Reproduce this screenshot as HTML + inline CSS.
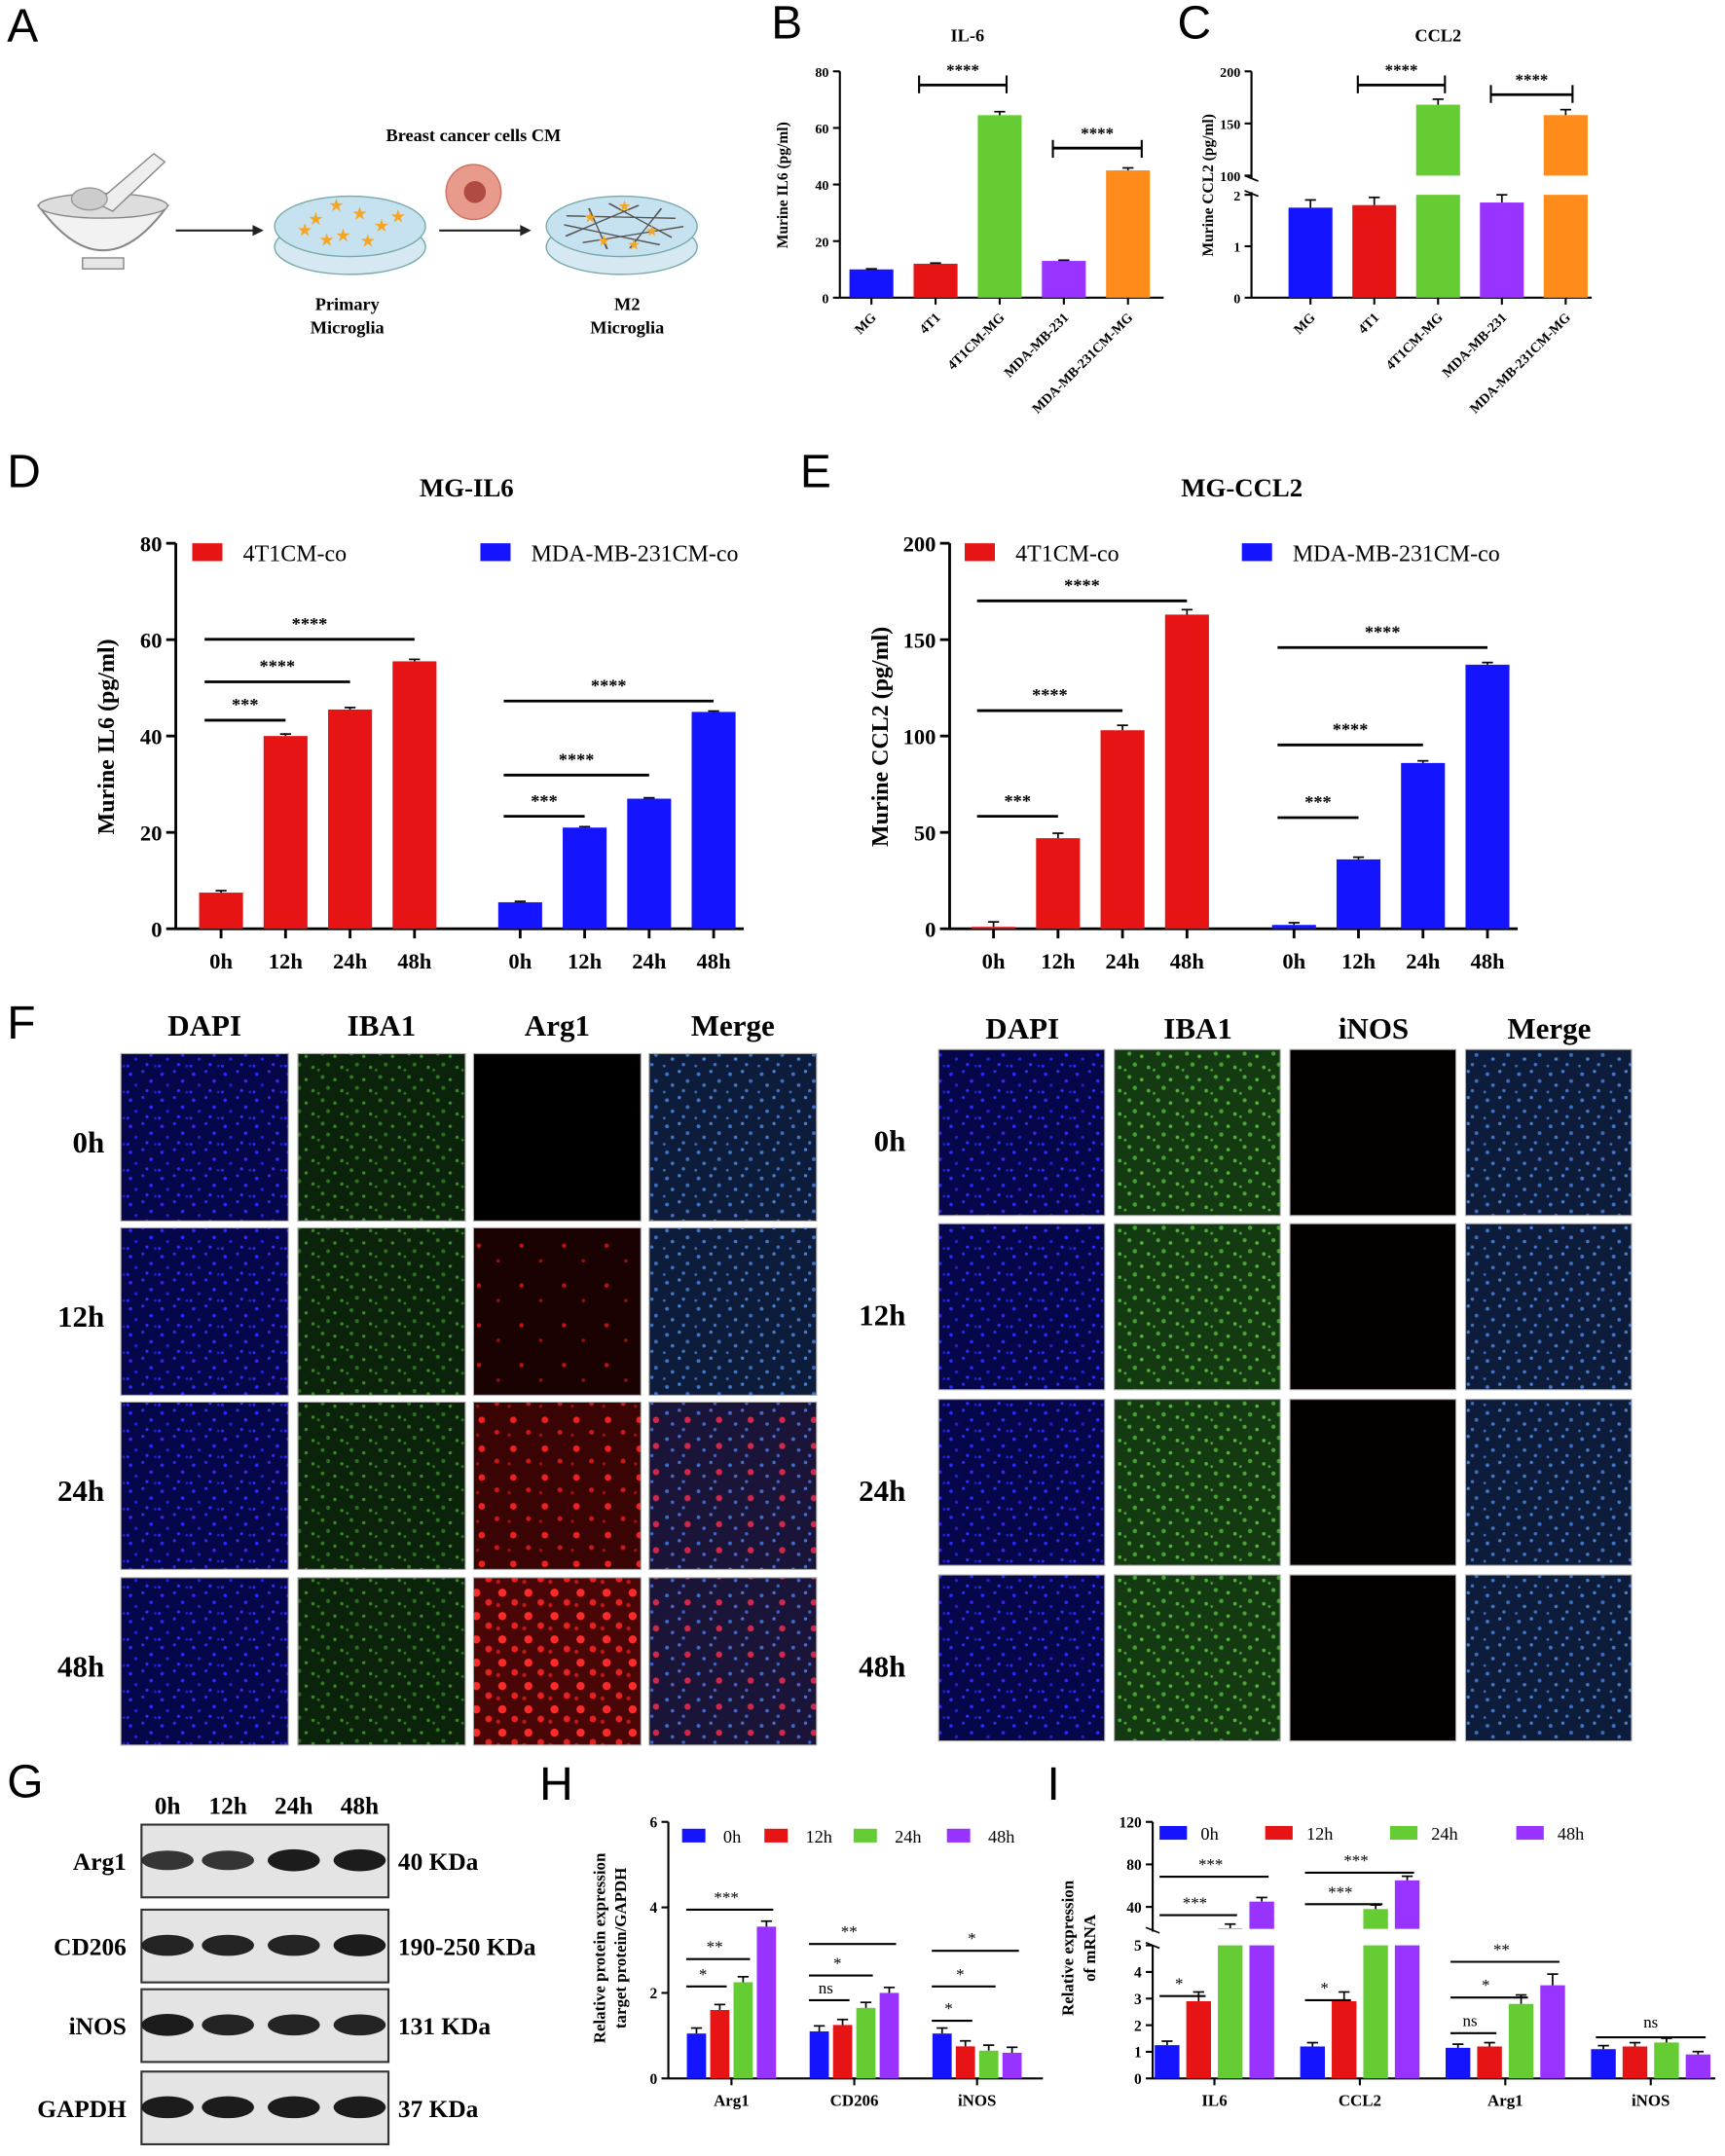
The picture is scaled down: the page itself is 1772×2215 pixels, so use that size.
<!DOCTYPE html>
<html><head><meta charset="utf-8"><style>
html,body{margin:0;padding:0;background:#fff;}
svg text{font-family:"Liberation Serif",serif;}
</style></head><body>
<svg id="fig" xmlns="http://www.w3.org/2000/svg" width="1772" height="2210" viewBox="0 0 1257 1568">
<defs>
<pattern id="pDapi" width="23" height="19" patternUnits="userSpaceOnUse"><rect width="23" height="19" fill="#06064a"/><circle cx="3" cy="4" r="1.3" fill="#2a2aff"/><circle cx="12" cy="2" r="1.1" fill="#3030e0"/><circle cx="18" cy="9" r="1.3" fill="#2a2aff"/><circle cx="7" cy="12" r="1.2" fill="#2222d0"/><circle cx="15" cy="16" r="1.1" fill="#3030ff"/><circle cx="21" cy="17" r="1" fill="#2020c0"/><circle cx="1" cy="17" r="1.1" fill="#2a2aff"/></pattern>
<pattern id="pIba" width="21" height="17" patternUnits="userSpaceOnUse"><rect width="21" height="17" fill="#0b230b"/><circle cx="4" cy="3" r="1.4" fill="#2f7a22"/><circle cx="13" cy="5" r="1.2" fill="#3d8f2a"/><circle cx="8" cy="11" r="1.5" fill="#2c6e20"/><circle cx="18" cy="13" r="1.2" fill="#3a8a28"/><circle cx="1" cy="15" r="1" fill="#2f7a22"/></pattern>
<pattern id="pIbaB" width="21" height="17" patternUnits="userSpaceOnUse"><rect width="21" height="17" fill="#143a12"/><circle cx="4" cy="3" r="1.5" fill="#4aa436"/><circle cx="13" cy="5" r="1.3" fill="#56b83c"/><circle cx="8" cy="11" r="1.6" fill="#44a030"/><circle cx="18" cy="13" r="1.3" fill="#52b03a"/><circle cx="1" cy="15" r="1" fill="#4aa436"/></pattern>
<pattern id="pMerge" width="23" height="19" patternUnits="userSpaceOnUse"><rect width="23" height="19" fill="#0d1c3a"/><circle cx="3" cy="4" r="1.4" fill="#3f74c8"/><circle cx="12" cy="2" r="1.2" fill="#4a80d0"/><circle cx="18" cy="9" r="1.4" fill="#3a6cc0"/><circle cx="7" cy="12" r="1.3" fill="#4678c8"/><circle cx="15" cy="16" r="1.2" fill="#3f74c8"/><circle cx="1" cy="17" r="1" fill="#3a6cc0"/></pattern>
<pattern id="pMergeR" width="23" height="19" patternUnits="userSpaceOnUse"><rect width="23" height="19" fill="#1a1438"/><circle cx="3" cy="4" r="1.4" fill="#3f6cc8"/><circle cx="12" cy="2" r="1.2" fill="#4a70d0"/><circle cx="18" cy="9" r="2.3" fill="#d0284a"/><circle cx="7" cy="12" r="1.3" fill="#4668c8"/><circle cx="15" cy="16" r="1.2" fill="#3f64c8"/></pattern>
<pattern id="pArg1" width="31" height="29" patternUnits="userSpaceOnUse"><rect width="31" height="29" fill="#1a0202"/><circle cx="8" cy="9" r="1.6" fill="#c01010"/><circle cx="22" cy="20" r="1.3" fill="#901010"/></pattern>
<pattern id="pArg2" width="23" height="21" patternUnits="userSpaceOnUse"><rect width="23" height="21" fill="#3a0404"/><circle cx="6" cy="6" r="2.4" fill="#ee2020"/><circle cx="17" cy="15" r="1.8" fill="#c81818"/><circle cx="3" cy="17" r="1.2" fill="#a01010"/></pattern>
<pattern id="pArg3" width="19" height="17" patternUnits="userSpaceOnUse"><rect width="19" height="17" fill="#4a0606"/><circle cx="5" cy="5" r="3" fill="#ff2a2a"/><circle cx="14" cy="12" r="2.4" fill="#e82020"/><circle cx="2" cy="14" r="1.5" fill="#c01818"/></pattern>
</defs>
</svg>
<script>
// ---------- data ----------
const bCats = ['MG','4T1','4T1CM-MG','MDA-MB-231','MDA-MB-231CM-MG'];
const bVals = [10, 12, 64.5, 13, 45];
const cVals = [1.75, 1.8, 168, 1.85, 158];
const bTicks = [0, 20, 40, 60, 80];
const cTicksLow = [0, 1, 2];
const cTicksHigh = [100, 150, 200];
const dTimes = ['0h','12h','24h','48h'];
const dRed = [7.5, 40, 45.5, 55.5];
const dBlue = [5.5, 21, 27, 45];
const dTicks = [0, 20, 40, 60, 80];
const eRed = [1, 47, 103, 163];
const eBlue = [2, 36, 86, 137];
const eTicks = [0, 50, 100, 150, 200];
const hCats = ['Arg1','CD206','iNOS'];
const h0 = [1.05, 1.1, 1.05];
const h12 = [1.6, 1.25, 0.75];
const h24 = [2.25, 1.65, 0.65];
const h48 = [3.55, 2.0, 0.6];
const hTicks = [0, 2, 4, 6];
const iCats = ['IL6','CCL2','Arg1','iNOS'];
const i0 = [1.25, 1.2, 1.15, 1.1];
const i12 = [2.9, 2.9, 1.2, 1.2];
const i24 = [20, 38, 2.8, 1.35];
const i48 = [45, 65, 3.5, 0.9];
const iTicksLow = [0, 1, 2, 3, 4, 5];
const iTicksHigh = [40, 80, 120];

const NS = 'http://www.w3.org/2000/svg';
const svg = document.getElementById('fig');
function mk(tag, attrs, parent){const e=document.createElementNS(NS,tag);for(const k in attrs)e.setAttribute(k,attrs[k]);(parent||svg).appendChild(e);return e;}
function grp(name){const g=mk('g',{});


return g;}
function T(p,x,y,s,size,o){o=o||{};const t=mk('text',{x:x,y:y,'font-size':size,'text-anchor':o.a||'start','font-weight':o.w||'bold',fill:o.f||'#000'},p);if(o.r!==undefined)t.setAttribute('transform','rotate('+o.r+' '+x+' '+y+')');if(o.ff)t.setAttribute('style','font-family:'+o.ff);t.textContent=s;return t;}
function L(p,x1,y1,x2,y2,w){return mk('line',{x1:x1,y1:y1,x2:x2,y2:y2,stroke:'#000','stroke-width':w||1.5},p);}
const COL = ['#1414ff','#e61414','#66cc33','#9933ff','#ff8c1a'];
const HC = ['#1414ff','#e61414','#66cc33','#9933ff'];
function bar(p,x,w,y0,y1,fill,name){const r=mk('rect',{x:x-w/2,y:Math.min(y0,y1),width:w,height:Math.abs(y0-y1),fill:fill},p);


return r;}
function err(p,x,y,e){L(p,x,y,x,y-e,1.2);L(p,x-4,y-e,x+4,y-e,1.2);}
function sig(p,x1,x2,y,s,fs){L(p,x1,y,x2,y,2);T(p,(x1+x2)/2,y-7,s,fs||12,{a:'middle'});}
function panelLetter(s,x,y){const t=T(svg,x,y,s,34,{w:'normal',ff:'"Liberation Sans",sans-serif'});

}

// ---------- Panel A ----------
(function(){const g=grp('panel-a-schematic');
panelLetter('A',5,30);
mk('path',{d:'M28 150 Q75 215 122 150 Z',fill:'#f2f2f2',stroke:'#888','stroke-width':1.5},g);
mk('ellipse',{cx:75,cy:150,rx:47,ry:9,fill:'#ddd',stroke:'#888'},g);
mk('rect',{x:60,y:188,width:30,height:8,fill:'#e6e6e6',stroke:'#888'},g);
mk('path',{d:'M70 148 L112 112 L120 118 L82 154 Z',fill:'#eee',stroke:'#888'},g);
mk('ellipse',{cx:65,cy:145,rx:13,ry:8,fill:'#ccc',stroke:'#999'},g);
mk('path',{d:'M128 168 L190 168',stroke:'#222','stroke-width':1.5},g);mk('path',{d:'M184 164 L192 168 L184 172 Z',fill:'#222'},g);
mk('ellipse',{cx:255,cy:180,rx:55,ry:20,fill:'#d6e8f2',stroke:'#7aa',},g);
mk('ellipse',{cx:255,cy:165,rx:55,ry:22,fill:'#c6e1f0',stroke:'#7aa'},g);
[[230,160],[245,150],[262,156],[278,165],[250,172],[268,176],[238,175],[290,158],[222,168]].forEach(c=>T(g,c[0],c[1]+4,'★',13,{f:'#f5a623',a:'middle',w:'normal',ff:'"DejaVu Sans",sans-serif'}));
T(g,253,226,'Primary',13,{a:'middle'});T(g,253,243,'Microglia',13,{a:'middle'});
T(g,345,103,'Breast cancer cells CM',13,{a:'middle'});
mk('circle',{cx:345,cy:140,r:20,fill:'#e89a8c',stroke:'#d07060'},g);mk('circle',{cx:346,cy:140,r:8,fill:'#b04a45'},g);
mk('path',{d:'M320 168 L385 168',stroke:'#222','stroke-width':1.5},g);mk('path',{d:'M379 164 L387 168 L379 172 Z',fill:'#222'},g);
mk('ellipse',{cx:453,cy:180,rx:55,ry:20,fill:'#d6e8f2',stroke:'#7aa'},g);
mk('ellipse',{cx:453,cy:165,rx:55,ry:22,fill:'#c6e1f0',stroke:'#7aa'},g);
for(let k=0;k<14;k++){const a=k*0.9;mk('line',{x1:453+Math.cos(a)*45,y1:165+Math.sin(a)*17,x2:453+Math.cos(a+2.3)*42,y2:165+Math.sin(a+2.3)*16,stroke:'#555','stroke-width':0.8},g);}
[[430,158],[455,150],[475,168],[440,175],[462,178]].forEach(c=>T(g,c[0],c[1]+4,'★',11,{f:'#f5a623',a:'middle',w:'normal',ff:'"DejaVu Sans",sans-serif'}));
T(g,457,226,'M2',13,{a:'middle'});T(g,457,243,'Microglia',13,{a:'middle'});
})();

// ---------- Panel B ----------
(function(){const g=grp('panel-b-il6-chart');panelLetter('B',562,28);
const y=v=>217-v*165/80, x=i=>635+i*46.75, X0=612;
T(g,705,30,'IL-6',13,{a:'middle'});
L(g,X0,52,X0,217);L(g,X0,217,848,217);
bTicks.forEach(t=>{L(g,X0-5,y(t),X0,y(t));T(g,X0-8,y(t)+4,String(t),10,{a:'end'});});
T(g,574,135,'Murine IL6 (pg/ml)',11,{a:'middle',r:-90});
bVals.forEach((v,i)=>{bar(g,x(i),32,217,y(v),COL[i],'bar-b-'+bCats[i].toLowerCase());err(g,x(i),y(v),v*0.04);
L(g,x(i),217,x(i),222);T(g,x(i)+4,232,bCats[i],10,{a:'end',r:-45});});
sig(g,x(1)-12,x(2)+5,62,'****');L(g,x(1)-12,55,x(1)-12,68);L(g,x(2)+5,55,x(2)+5,68);
sig(g,x(3)-8,x(4)+10,108,'****');L(g,x(3)-8,102,x(3)-8,115);L(g,x(4)+10,102,x(4)+10,115);
})();

// ---------- Panel C ----------
(function(){const g=grp('panel-c-ccl2-chart');panelLetter('C',858,28);
const yl=v=>217-v*37.5, yh=v=>128-(v-100)*0.76, x=i=>955+i*46.5, X0=912;
T(g,1048,30,'CCL2',13,{a:'middle'});
L(g,X0,52,X0,130);L(g,X0,140,X0,217);L(g,X0,217,1160,217);
L(g,X0-5,128,X0+5,132,1.2);L(g,X0-5,139,X0+5,143,1.2);
cTicksLow.forEach(t=>{L(g,X0-5,yl(t),X0,yl(t));T(g,X0-8,yl(t)+4,String(t),10,{a:'end'});});
cTicksHigh.forEach(t=>{L(g,X0-5,yh(t),X0,yh(t));T(g,X0-8,yh(t)+4,String(t),10,{a:'end'});});
T(g,884,135,'Murine CCL2 (pg/ml)',11,{a:'middle',r:-90});
cVals.forEach((v,i)=>{if(v>2){bar(g,x(i),32,217,142,COL[i],'bar-c-low-'+i);bar(g,x(i),32,128,yh(v),COL[i],'bar-c-'+bCats[i].toLowerCase());err(g,x(i),yh(v),4);}
else{bar(g,x(i),32,217,yl(v),COL[i],'bar-c-'+bCats[i].toLowerCase());err(g,x(i),yl(v),0.15*37.5);}
L(g,x(i),217,x(i),222);T(g,x(i)+4,232,bCats[i],10,{a:'end',r:-45});});
sig(g,x(1)-12,x(2)+5,62,'****');L(g,x(1)-12,55,x(1)-12,68);L(g,x(2)+5,55,x(2)+5,68);
sig(g,x(3)-8,x(4)+5,69,'****');L(g,x(3)-8,62,x(3)-8,75);L(g,x(4)+5,62,x(4)+5,75);
})();

// ---------- Panels D/E ----------
function timeChart(name,letter,lx,title,tx,X0,ticks,ymax,red,blue,ylab,xr,xb,legR,legB,sR,sB){
const g=grp(name);panelLetter(letter,lx,355);
const y=v=>677-v*281/ymax, xR=i=>xr+i*47, xB=i=>xb+i*47;
T(g,tx,362,title,19,{a:'middle'});
L(g,X0,396,X0,677,2);L(g,X0,677,xB(3)+22,677,2);
ticks.forEach(t=>{L(g,X0-7,y(t),X0,y(t),2);T(g,X0-10,y(t)+6,String(t),16,{a:'end'});});
T(g,X0-45,537,ylab,17,{a:'middle',r:-90});
red.forEach((v,i)=>{bar(g,xR(i),32,677,y(v),'#e61414','bar-'+letter.toLowerCase()+'-4t1-'+dTimes[i]);err(g,xR(i),y(v),ymax*0.018);L(g,xR(i),677,xR(i),684,2);T(g,xR(i),706,dTimes[i],16,{a:'middle'});});
blue.forEach((v,i)=>{bar(g,xB(i),32,677,y(v),'#1414ff','bar-'+letter.toLowerCase()+'-mda-'+dTimes[i]);err(g,xB(i),y(v),ymax*0.008);L(g,xB(i),677,xB(i),684,2);T(g,xB(i),706,dTimes[i],16,{a:'middle'});});
const lg=grp('legend-'+letter.toLowerCase());
mk('rect',{x:legR,y:396,width:22,height:13,fill:'#e61414'},lg);T(lg,legR+37,409,'4T1CM-co',17,{w:'normal'});
mk('rect',{x:legB,y:396,width:22,height:13,fill:'#1414ff'},lg);T(lg,legB+37,409,'MDA-MB-231CM-co',17,{w:'normal'});
const st=['***','****','****'];
sR.forEach((yy,k)=>sig(g,xR(0)-12,xR(k+1),yy,st[k],13));
sB.forEach((yy,k)=>sig(g,xB(0)-12,xB(k+1),yy,st[k],13));
}
timeChart('panel-d-mg-il6-chart','D',5,'MG-IL6',340,128,dTicks,80,dRed,dBlue,'Murine IL6 (pg/ml)',161,379,140,350,[525,497,466],[595,565,511]);
timeChart('panel-e-mg-ccl2-chart','E',583,'MG-CCL2',905,692,eTicks,200,eRed,eBlue,'Murine CCL2 (pg/ml)',724,943,703,905,[595,518,438],[596,543,472]);

// ---------- Panel F ----------
(function(){const g=grp('panel-f-immunofluorescence');panelLetter('F',5,757);
const rowsL=[768,895,1022,1150], rowsR=[765,892,1020,1148];
const colsL=[88,217,345,473], colsR=[684,812,940,1068];
const hL=['DAPI','IBA1','Arg1','Merge'], hR=['DAPI','IBA1','iNOS','Merge'];
hL.forEach((h,i)=>T(g,colsL[i]+61,755,h,22,{a:'middle'}));
hR.forEach((h,i)=>T(g,colsR[i]+61,757,h,22,{a:'middle'}));
const argP=['#000','url(#pArg1)','url(#pArg2)','url(#pArg3)'];
const mergeP=['url(#pMerge)','url(#pMerge)','url(#pMergeR)','url(#pMergeR)'];
rowsL.forEach((ry,r)=>{T(g,76,ry+72,dTimes[r],22,{a:'end'});
[ 'url(#pDapi)','url(#pIba)',argP[r],mergeP[r]].forEach((f,c)=>{const im=mk('rect',{x:colsL[c],y:ry,width:122,height:122,fill:f,stroke:'#aaa','stroke-width':0.8},g);

});});
rowsR.forEach((ry,r)=>{T(g,660,ry+74,dTimes[r],22,{a:'end'});
['url(#pDapi)','url(#pIbaB)','#050000','url(#pMerge)'].forEach((f,c)=>{const im=mk('rect',{x:colsR[c],y:ry,width:121,height:121,fill:f,stroke:'#aaa','stroke-width':0.8},g);

});});
})();

// ---------- Panel G ----------
(function(){const g=grp('panel-g-western-blot');panelLetter('G',5,1310);
const xs=[122,166,214,262];dTimes.forEach((t,i)=>T(g,xs[i],1322,t,18,{a:'middle'}));
const rows=[['Arg1','40 KDa',1330,[0.7,0.7,1,1]],['CD206','190-250 KDa',1392,[0.9,0.9,0.9,1]],['iNOS','131 KDa',1450,[1,0.9,0.9,0.9]],['GAPDH','37 KDa',1510,[1,1,1,1]]];
rows.forEach(r=>{const bx=mk('rect',{x:103,y:r[2],width:180,height:53,fill:'#e4e4e4',stroke:'#333','stroke-width':1.5},g);


xs.forEach((x,i)=>mk('ellipse',{cx:x,cy:r[2]+26,rx:19,ry:5+3*r[3][i],fill:'#111',opacity:0.55+0.4*r[3][i]},g));
T(g,92,r[2]+33,r[0],18,{a:'end'});T(g,290,r[2]+33,r[1],18);});
})();

// ---------- Panel H ----------
(function(){const g=grp('panel-h-protein-chart');panelLetter('H',393,1312);
const y=v=>1515-v*187/6, gx=i=>533+i*89.5, X0=487;
L(g,X0,1328,X0,1515);L(g,X0,1515,760,1515);
hTicks.forEach(t=>{L(g,X0-5,y(t),X0,y(t));T(g,X0-8,y(t)+4,String(t),11,{a:'end'});});
T(g,441,1420,'Relative protein expression',12,{a:'middle',r:-90});T(g,456,1420,'target protein/GAPDH',12,{a:'middle',r:-90});
const ser=[h0,h12,h24,h48];
ser.forEach((s,j)=>s.forEach((v,i)=>{const xx=gx(i)+(j-1.5)*17;bar(g,xx,14,1515,y(v),HC[j],'bar-h-'+hCats[i].toLowerCase()+'-'+dTimes[j]);err(g,xx,y(v),4);}));
hCats.forEach((c,i)=>{L(g,gx(i),1515,gx(i),1520);T(g,gx(i),1535,c,12,{a:'middle'});});
const lg=grp('legend-h');[497,557,622,690].forEach((lx,j)=>{mk('rect',{x:lx,y:1333,width:17,height:10,fill:HC[j]},lg);T(lg,lx+30,1343,dTimes[j],13,{w:'normal'});});
const S=[[1448,1428,1392,'*','**','***'],[1458,1440,1417,'ns','*','**'],[1473,1448,1422,'*','*','*']];
S.forEach((s,i)=>{const x0=gx(i)-33;[0,1,2].forEach(k=>{L(g,x0,s[k],gx(i)+(k+1-1.5)*17+5,s[k],1.5);T(g,(x0+gx(i)+(k-0.5)*17)/2,s[k]-5,s[k+3],12,{a:'middle',w:'normal'});});});
})();

// ---------- Panel I ----------
(function(){const g=grp('panel-i-mrna-chart');panelLetter('I',763,1312);
const yl=v=>1515-v*19.4, yh=v=>1390-(v-40)*0.775, gx=i=>885+i*106, X0=840;
L(g,X0,1328,X0,1408);L(g,X0,1418,X0,1515);L(g,X0,1515,1250,1515);
L(g,X0-5,1405,X0+5,1409,1.2);L(g,X0-5,1416,X0+5,1420,1.2);
iTicksLow.forEach(t=>{L(g,X0-5,yl(t),X0,yl(t));T(g,X0-8,yl(t)+4,String(t),11,{a:'end'});});
iTicksHigh.forEach(t=>{L(g,X0-5,yh(t),X0,yh(t));T(g,X0-8,yh(t)+4,String(t),11,{a:'end'});});
T(g,782,1420,'Relative expression',12,{a:'middle',r:-90});T(g,798,1420,'of mRNA',12,{a:'middle',r:-90});
const ser=[i0,i12,i24,i48];
ser.forEach((s,j)=>s.forEach((v,i)=>{const xx=gx(i)+(j-1.5)*23;
if(v>5){bar(g,xx,18,1515,1418,HC[j],'bar-i-low-'+i+'-'+j);bar(g,xx,18,1406,yh(v),HC[j],'bar-i-'+iCats[i].toLowerCase()+'-'+dTimes[j]);err(g,xx,yh(v),3);}
else{bar(g,xx,18,1515,yl(v),HC[j],'bar-i-'+iCats[i].toLowerCase()+'-'+dTimes[j]);err(g,xx,yl(v),v*0.12*19.4);}}));
iCats.forEach((c,i)=>{L(g,gx(i),1515,gx(i),1520);T(g,gx(i),1535,c,12,{a:'middle'});});
const lg=grp('legend-i');[845,922,1013,1105].forEach((lx,j)=>{mk('rect',{x:lx,y:1331,width:20,height:10,fill:HC[j]},lg);T(lg,lx+30,1341,dTimes[j],13,{w:'normal'});});
const S=[[1455,1396,1368,'*','***','***'],[1458,1388,1365,'*','***','***'],[1482,1456,1430,'ns','*','**']];
S.forEach((s,i)=>{const x0=gx(i)-40;[0,1,2].forEach(k=>{L(g,x0,s[k],gx(i)+(k-0.5)*23+5,s[k],1.5);T(g,(x0+gx(i)+(k-0.5)*23)/2,s[k]-5,s[k+3],12,{a:'middle',w:'normal'});});});
L(g,gx(3)-40,1485,gx(3)+40,1485,1.5);T(g,gx(3),1478,'ns',12,{a:'middle',w:'normal'});
})();
</script>
</body></html>
